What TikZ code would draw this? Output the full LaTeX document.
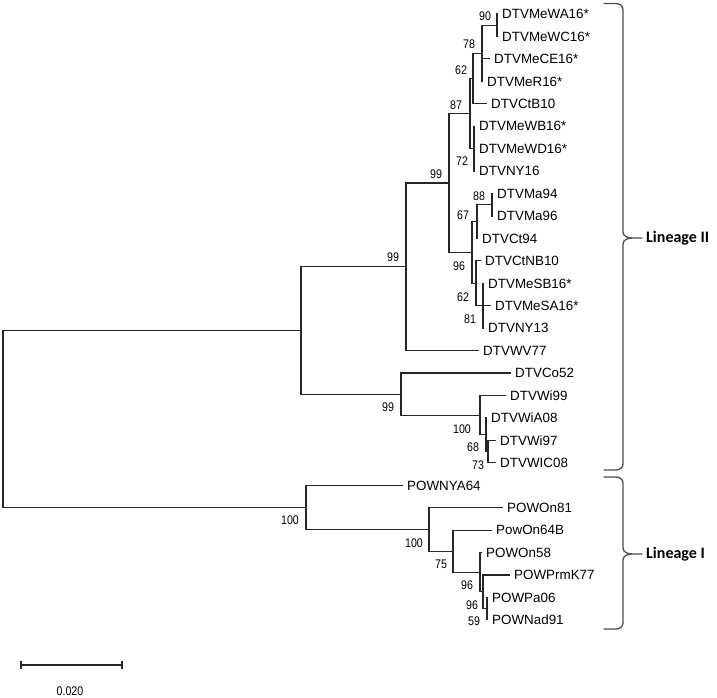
\documentclass[tikz,border=0pt]{standalone}
\usepackage{fontspec}
\setmainfont{Liberation Sans}
\newfontfamily\bsfont[FakeStretch=0.85]{Liberation Sans}
\newfontfamily\linfont{Carlito}
\begin{document}
\begin{tikzpicture}[x=1pt,y=-1pt,
  br/.style={line width=1.1pt, draw=black!85, line cap=rect},
  leaf/.style={anchor=west, inner sep=0pt, xshift=5pt, font=\fontsize{13.4}{14}\selectfont, text height=9.5pt, text depth=0pt},
  bs/.style={inner sep=0pt, font=\bsfont\fontsize{12.5}{13}\selectfont},
  bracestyle/.style={line width=1.3pt, draw=black!70, line cap=round},
  lin/.style={anchor=west, inner sep=0pt, font=\linfont\bfseries\fontsize{16}{18}\selectfont}
]
\useasboundingbox (0,0) rectangle (717,697);

% internal nodes
\coordinate (root) at (3,418.9);
\coordinate (nA) at (301,330.4);
\coordinate (nB) at (406,266.8);
\coordinate (nC) at (449,183.0);
\coordinate (n4) at (470,113.58);
\coordinate (n3) at (473,78.52);
\coordinate (n2) at (482,53.27);
\coordinate (n1) at (497,25.22);
\coordinate (n5) at (474,148.64);
\coordinate (nK) at (472,252.43);
\coordinate (n7) at (477,221.57);
\coordinate (n6) at (492,204.74);
\coordinate (nL) at (476,283.28);
\coordinate (nM) at (483,305.72);
\coordinate (nD) at (401,394.07);
\coordinate (nN) at (480,415.1);
\coordinate (nO) at (486,434.75);
\coordinate (nP) at (488,451.58);
\coordinate (nE) at (306,507.33);
\coordinate (nF) at (429,529.42);
\coordinate (nG) at (453,551.16);
\coordinate (nH) at (480,572.2);
\coordinate (nI) at (483,591.83);
\coordinate (nJ) at (487,608.66);

% leaf tips
\coordinate (t0) at (497,14.00);
\coordinate (t1) at (497,36.44);
\coordinate (t2) at (489,58.88);
\coordinate (t3) at (482,81.32);
\coordinate (t4) at (486,103.76);
\coordinate (t5) at (474,126.20);
\coordinate (t6) at (474,148.64);
\coordinate (t7) at (474,171.08);
\coordinate (t8) at (492,193.52);
\coordinate (t9) at (492,215.96);
\coordinate (t10) at (477,238.40);
\coordinate (t11) at (480,260.84);
\coordinate (t12) at (483,283.28);
\coordinate (t13) at (490,305.72);
\coordinate (t14) at (483,328.16);
\coordinate (t15) at (478,350.60);
\coordinate (t16) at (510,373.04);
\coordinate (t17) at (505,395.48);
\coordinate (t18) at (486,417.92);
\coordinate (t19) at (495,440.36);
\coordinate (t20) at (495,462.80);
\coordinate (t21) at (402,485.24);
\coordinate (t22) at (502,507.68);
\coordinate (t23) at (491,530.12);
\coordinate (t24) at (481,552.56);
\coordinate (t25) at (509,575.00);
\coordinate (t26) at (487,597.44);
\coordinate (t27) at (487,619.88);

% branches
\draw[br] (root) |- (nA); \draw[br] (root) |- (nE);
\draw[br] (nA) |- (nB); \draw[br] (nA) |- (nD);
\draw[br] (nB) |- (nC); \draw[br] (nB) |- (t15);
\draw[br] (nC) |- (n4); \draw[br] (nC) |- (nK);
\draw[br] (n4) |- (n3); \draw[br] (n4) |- (n5);
\draw[br] (n3) |- (n2); \draw[br] (n3) |- (t4);
\draw[br] (n2) |- (n1); \draw[br] (n2) |- (t2); \draw[br] (n2) |- (t3);
\draw[br] (n1) |- (t0); \draw[br] (n1) |- (t1);
\draw[br] (n5) |- (t5); \draw[br] (n5) |- (t6); \draw[br] (n5) |- (t7);
\draw[br] (nK) |- (n7); \draw[br] (nK) |- (nL);
\draw[br] (n7) |- (n6); \draw[br] (n7) |- (t10);
\draw[br] (n6) |- (t8); \draw[br] (n6) |- (t9);
\draw[br] (nL) |- (t11); \draw[br] (nL) |- (nM);
\draw[br] (nM) |- (t12); \draw[br] (nM) |- (t13); \draw[br] (nM) |- (t14);
\draw[br] (nD) |- (t16); \draw[br] (nD) |- (nN);
\draw[br] (nN) |- (t17); \draw[br] (nN) |- (nO);
\draw[br] (nO) |- (t18); \draw[br] (nO) |- (nP);
\draw[br] (nP) |- (t19); \draw[br] (nP) |- (t20);
\draw[br] (nE) |- (t21); \draw[br] (nE) |- (nF);
\draw[br] (nF) |- (t22); \draw[br] (nF) |- (nG);
\draw[br] (nG) |- (t23); \draw[br] (nG) |- (nH);
\draw[br] (nH) |- (t24); \draw[br] (nH) |- (nI);
\draw[br] (nI) |- (t25); \draw[br] (nI) |- (nJ);
\draw[br] (nJ) |- (t26); \draw[br] (nJ) |- (t27);

% leaf labels
\foreach \i/\t in {0/DTVMeWA16*,1/DTVMeWC16*,2/DTVMeCE16*,3/DTVMeR16*,4/DTVCtB10,
  5/DTVMeWB16*,6/DTVMeWD16*,7/DTVNY16,8/DTVMa94,9/DTVMa96,10/DTVCt94,11/DTVCtNB10,
  12/DTVMeSB16*,13/DTVMeSA16*,14/DTVNY13,15/DTVWV77,16/DTVCo52,17/DTVWi99,
  18/DTVWiA08,19/DTVWi97,20/DTVWIC08,21/POWNYA64,22/POWOn81,23/PowOn64B,
  24/POWOn58,25/POWPrmK77,26/POWPa06,27/POWNad91}
  \node[leaf] (l\i) at (t\i) {\t};

% bootstrap values
\node[bs] (b1) at (485,16.5) {90};
\node[bs] (b2) at (469,44.5) {78};
\node[bs] (b3) at (461,70) {62};
\node[bs] (b4) at (456,105) {87};
\node[bs] (b5) at (462,161) {72};
\node[bs] (b6) at (436,174) {99};
\node[bs] (b7) at (479,196) {88};
\node[bs] (b8) at (463,215) {67};
\node[bs] (b9) at (459,266) {96};
\node[bs] (b10) at (463,297) {62};
\node[bs] (b11) at (470,319) {81};
\node[bs] (b12) at (393,257) {99};
\node[bs] (b13) at (388,407) {99};
\node[bs] (b14) at (462,429) {100};
\node[bs] (b15) at (473,447) {68};
\node[bs] (b16) at (478,465) {73};
\node[bs] (b17) at (290,520) {100};
\node[bs] (b18) at (414,543) {100};
\node[bs] (b19) at (441,564) {75};
\node[bs] (b20) at (467,585) {96};
\node[bs] (b21) at (472,605) {96};
\node[bs] (b22) at (474,621) {59};

% braces
\draw[bracestyle] (604,3.5) -- (616,3.5) to[out=0,in=90] (623,10) -- (623,232)
  to[out=-90,in=180] (632,238) -- (642,238);
\draw[bracestyle] (632,238) to[out=180,in=90] (623,244) -- (623,464)
  to[out=-90,in=0] (616,470) -- (604,470);
\coordinate (tipII) at (642,238);
\node[lin] (linII) at ([xshift=4pt]tipII) {Lineage II};

\draw[bracestyle] (604,477) -- (616,477) to[out=0,in=90] (623,483) -- (623,548)
  to[out=-90,in=180] (632,554) -- (642,554);
\draw[bracestyle] (632,554) to[out=180,in=90] (623,560) -- (623,623)
  to[out=-90,in=0] (616,629) -- (604,629);
\coordinate (tipI) at (642,554);
\node[lin] (linI) at ([xshift=4pt]tipI) {Lineage I};

% scale bar
\coordinate (sb1) at (21,665);
\coordinate (sb2) at (122,665);
\draw[br, line cap=butt] (sb1) -- (sb2);
\draw[br, line cap=butt] ([yshift=-4pt]sb1) -- ([yshift=4pt]sb1);
\draw[br, line cap=butt] ([yshift=-4pt]sb2) -- ([yshift=4pt]sb2);
\node[bs] (sbl) at (70,691) {0.020};
\end{tikzpicture}
\end{document}
